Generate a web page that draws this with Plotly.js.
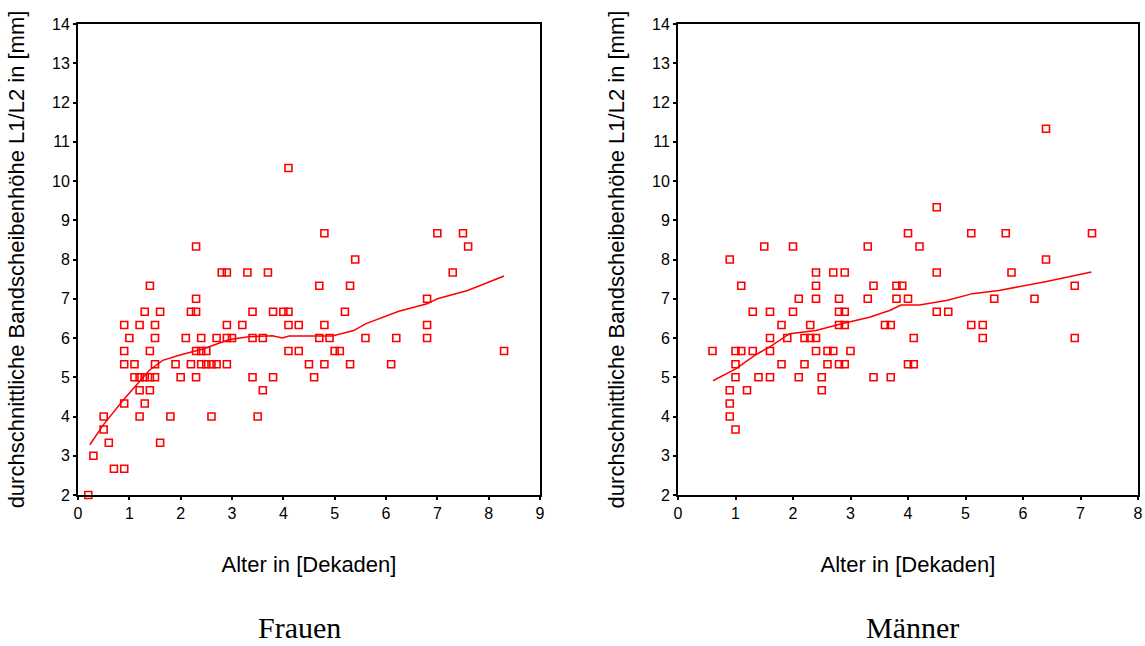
<!DOCTYPE html>
<html>
<head>
<meta charset="utf-8">
<script src="https://cdn.plot.ly/plotly-3.0.1.min.js"></script>
<style>html,body{margin:0;padding:0;background:#fff;}#chart{width:1145px;height:646px;}</style>
</head>
<body>
<div id="chart"></div>
<script>
// ---- Frauen (women): age in decades vs. mean disc height L1/L2 [mm]
const frauenAlter = [4.1, 4.8, 7.0, 7.5, 2.3, 7.6, 5.4, 2.8, 2.9, 3.3, 3.7, 7.3, 1.4, 4.7, 5.3, 2.3, 6.8,
  1.3, 1.6, 2.2, 2.3, 3.4, 3.8, 4.0, 4.1, 5.2,
  0.9, 1.2, 1.5, 2.9, 3.2, 4.1, 4.3, 4.8, 6.8,
  1.0, 1.5, 2.1, 2.4, 2.7, 2.9, 3.0, 3.4, 3.6, 4.7, 4.9, 5.6, 6.2, 6.8,
  0.9, 1.4, 2.3, 2.4, 2.5, 4.1, 4.3, 5.0, 5.1, 8.3,
  0.9, 1.1, 1.5, 1.9, 2.2, 2.4, 2.5, 2.6, 2.7, 2.9, 4.5, 4.8, 5.3, 6.1,
  1.1, 1.2, 1.3, 1.4, 1.5, 2.0, 2.3, 3.4, 3.8, 4.6,
  1.2, 1.4, 3.6, 0.9, 1.3, 0.5, 1.2, 1.8, 2.6, 3.5, 0.5, 0.6, 1.6, 0.3, 0.7, 0.9, 0.2];
const frauenHoehe = [10.333, 8.667, 8.667, 8.667, 8.333, 8.333, 8.0, 7.667, 7.667, 7.667, 7.667, 7.667, 7.333, 7.333, 7.333, 7.0, 7.0,
  6.667, 6.667, 6.667, 6.667, 6.667, 6.667, 6.667, 6.667, 6.667,
  6.333, 6.333, 6.333, 6.333, 6.333, 6.333, 6.333, 6.333, 6.333,
  6.0, 6.0, 6.0, 6.0, 6.0, 6.0, 6.0, 6.0, 6.0, 6.0, 6.0, 6.0, 6.0, 6.0,
  5.667, 5.667, 5.667, 5.667, 5.667, 5.667, 5.667, 5.667, 5.667, 5.667,
  5.333, 5.333, 5.333, 5.333, 5.333, 5.333, 5.333, 5.333, 5.333, 5.333, 5.333, 5.333, 5.333, 5.333,
  5.0, 5.0, 5.0, 5.0, 5.0, 5.0, 5.0, 5.0, 5.0, 5.0,
  4.667, 4.667, 4.667, 4.333, 4.333, 4.0, 4.0, 4.0, 4.0, 4.0, 3.667, 3.333, 3.333, 3.0, 2.667, 2.667, 2.0];
const frauenFitAlter = [0.23, 0.49, 0.87, 1.39, 1.65, 1.97, 2.43, 2.95, 3.33, 3.79, 3.98, 4.11, 4.95, 5.37, 5.6, 6.25, 6.8, 7.0, 7.59, 8.3];
const frauenFitHoehe = [3.28, 3.78, 4.40, 5.18, 5.43, 5.56, 5.72, 5.96, 6.03, 6.06, 6.0, 6.05, 6.05, 6.19, 6.36, 6.68, 6.87, 7.0, 7.21, 7.58];

// ---- Männer (men)
const maennerAlter = [6.4, 4.5, 4.0, 5.1, 5.7, 7.2, 1.5, 2.0, 3.3, 4.2, 0.9, 6.4,
  2.4, 2.7, 2.9, 4.5, 5.8,
  1.1, 2.4, 3.4, 3.8, 3.9, 6.9,
  2.1, 2.4, 2.8, 3.3, 3.8, 4.0, 5.5, 6.2,
  1.3, 1.6, 2.0, 2.8, 2.9, 4.5, 4.7,
  1.8, 2.3, 2.8, 2.9, 3.6, 3.7, 5.1, 5.3,
  1.6, 1.9, 2.2, 2.3, 2.4, 4.1, 5.3, 6.9,
  0.6, 1.0, 1.1, 1.3, 1.6, 2.4, 2.6, 2.7, 3.0,
  1.0, 1.8, 2.2, 2.6, 2.8, 2.9, 4.0, 4.1,
  1.0, 1.4, 1.6, 2.1, 2.5, 3.4, 3.7,
  0.9, 1.2, 2.5, 0.9, 0.9, 1.0];
const maennerHoehe = [11.333, 9.333, 8.667, 8.667, 8.667, 8.667, 8.333, 8.333, 8.333, 8.333, 8.0, 8.0,
  7.667, 7.667, 7.667, 7.667, 7.667,
  7.333, 7.333, 7.333, 7.333, 7.333, 7.333,
  7.0, 7.0, 7.0, 7.0, 7.0, 7.0, 7.0, 7.0,
  6.667, 6.667, 6.667, 6.667, 6.667, 6.667, 6.667,
  6.333, 6.333, 6.333, 6.333, 6.333, 6.333, 6.333, 6.333,
  6.0, 6.0, 6.0, 6.0, 6.0, 6.0, 6.0, 6.0,
  5.667, 5.667, 5.667, 5.667, 5.667, 5.667, 5.667, 5.667, 5.667,
  5.333, 5.333, 5.333, 5.333, 5.333, 5.333, 5.333, 5.333,
  5.0, 5.0, 5.0, 5.0, 5.0, 5.0, 5.0,
  4.667, 4.667, 4.667, 4.333, 4.0, 3.667];
const maennerFitAlter = [0.61, 1.01, 1.36, 1.59, 1.94, 2.40, 2.81, 3.33, 3.68, 3.88, 4.20, 4.69, 5.12, 5.58, 6.41, 7.19];
const maennerFitHoehe = [4.91, 5.22, 5.58, 5.77, 6.11, 6.19, 6.35, 6.53, 6.70, 6.84, 6.84, 6.96, 7.13, 7.21, 7.44, 7.68];

const yTitle = 'durchschnittliche Bandscheibenhöhe L1/L2 in [mm]';
const xTitle = 'Alter in [Dekaden]';
const panelLabels = ['Frauen', 'Männer'];

const RED = '#ff0000';
const sansFont = '"Liberation Sans", Arial, sans-serif';
const serifFont = '"Liberation Serif", "Times New Roman", serif';

function scatter(x, y, xa, ya) {
  return {x: x, y: y, xaxis: xa, yaxis: ya, type: 'scatter', mode: 'markers', cliponaxis: false,
    marker: {symbol: 'square-open', size: 7, color: RED, line: {width: 1.6, color: RED}}, hoverinfo: 'x+y'};
}
function fit(x, y, xa, ya) {
  return {x: x, y: y, xaxis: xa, yaxis: ya, type: 'scatter', mode: 'lines', cliponaxis: false,
    line: {color: RED, width: 1.5}, hoverinfo: 'skip'};
}

const data = [
  scatter(frauenAlter, frauenHoehe, 'x', 'y'),
  fit(frauenFitAlter, frauenFitHoehe, 'x', 'y'),
  scatter(maennerAlter, maennerHoehe, 'x2', 'y2'),
  fit(maennerFitAlter, maennerFitHoehe, 'x2', 'y2')
];

function xAxis(domain, maxV, anchor) {
  return {domain: domain, range: [0, maxV], anchor: anchor, dtick: 1, tick0: 0,
    showline: true, mirror: true, linecolor: '#000', linewidth: 2,
    ticks: 'outside', ticklen: 3, tickwidth: 2, tickcolor: '#000',
    showgrid: false, zeroline: false, automargin: false,
    tickfont: {family: sansFont, size: 16, color: '#000'},
    title: {text: xTitle, font: {family: sansFont, size: 22, color: '#000'}, standoff: 35}};
}
function yAxis(domain, anchor) {
  return {domain: domain, range: [2, 14], anchor: anchor, dtick: 1, tick0: 0,
    showline: true, mirror: true, linecolor: '#000', linewidth: 2,
    ticks: 'outside', ticklen: 3, tickwidth: 2, tickcolor: '#000',
    showgrid: false, zeroline: false, automargin: false,
    tickfont: {family: sansFont, size: 16, color: '#000'},
    title: {text: yTitle, font: {family: sansFont, size: 22, color: '#000'}, standoff: 21}};
}

const W = 1145, H = 646;
const yDom = [1 - 495 / H, 1 - 24 / H];
const layout = {
  width: W, height: H,
  margin: {l: 0, r: 0, t: 0, b: 0},
  paper_bgcolor: '#fff', plot_bgcolor: '#fff',
  showlegend: false,
  xaxis: xAxis([78 / W, 540 / W], 9, 'y'),
  yaxis: yAxis(yDom, 'x'),
  xaxis2: xAxis([678 / W, 1138 / W], 8, 'y2'),
  yaxis2: yAxis(yDom, 'x2'),
  annotations: [
    {text: panelLabels[0], xref: 'paper', yref: 'paper', x: 299 / W, y: 1 - 627 / H, xanchor: 'center', yanchor: 'middle',
      showarrow: false, font: {family: serifFont, size: 30, color: '#000'}},
    {text: panelLabels[1], xref: 'paper', yref: 'paper', x: 912 / W, y: 1 - 627 / H, xanchor: 'center', yanchor: 'middle',
      showarrow: false, font: {family: serifFont, size: 30, color: '#000'}}
  ]
};

Plotly.newPlot('chart', data, layout, {displayModeBar: false, staticPlot: true});
</script>
</body>
</html>
